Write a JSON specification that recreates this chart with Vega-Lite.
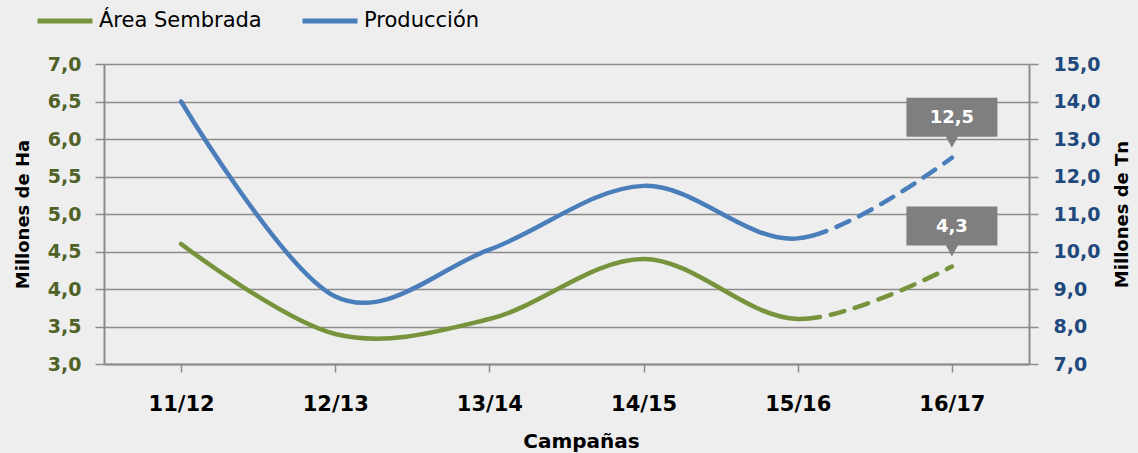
{
  "$schema": "https://vega.github.io/schema/vega-lite/v6.json",
  "width": 925,
  "height": 300,
  "autosize": {"type": "none"},
  "padding": {"left": 104, "top": 64, "right": 109, "bottom": 89},
  "background": "#eeeeee",
  "config": {
    "locale": {"number": {"decimal": ",", "thousands": ".", "grouping": [3], "currency": ["", " €"]}},
    "font": "DejaVu Sans",
    "view": {"stroke": null}
  },
  "data": {
    "values": [
      {"c": "11/12", "s": "Área Sembrada", "v": 4.6},
      {"c": "12/13", "s": "Área Sembrada", "v": 3.4},
      {"c": "13/14", "s": "Área Sembrada", "v": 3.6},
      {"c": "14/15", "s": "Área Sembrada", "v": 4.4},
      {"c": "15/16", "s": "Área Sembrada", "v": 3.6},
      {"c": "16/17", "s": "Área Sembrada", "v": 4.3},
      {"c": "11/12", "s": "Producción", "v": 14.0},
      {"c": "12/13", "s": "Producción", "v": 8.8},
      {"c": "13/14", "s": "Producción", "v": 10.05},
      {"c": "14/15", "s": "Producción", "v": 11.75},
      {"c": "15/16", "s": "Producción", "v": 10.35},
      {"c": "16/17", "s": "Producción", "v": 12.5}
    ]
  },
  "encoding": {
    "x": {
      "field": "c",
      "type": "ordinal",
      "scale": {"type": "point", "padding": 0.5},
      "axis": {
        "title": "Campañas",
        "titleFontSize": 20,
        "titleFontWeight": "bold",
        "titleColor": "#000000",
        "titlePadding": 17,
        "titleX": 477,
        "labelAngle": 0,
        "labelFontSize": 21,
        "labelFontWeight": "bold",
        "labelColor": "#000000",
        "labelPadding": 21,
        "tickSize": 8,
        "tickColor": "#8c8c8c",
        "tickWidth": 1.5,
        "domainColor": "#8c8c8c",
        "domainWidth": 2,
        "grid": false
      }
    }
  },
  "layer": [
    {
      "transform": [{"filter": "datum.s == 'Área Sembrada'"}],
      "encoding": {
        "y": {
          "field": "v",
          "type": "quantitative",
          "scale": {"domain": [3, 7], "nice": false, "zero": false},
          "axis": {
            "orient": "left",
            "values": [3, 3.5, 4, 4.5, 5, 5.5, 6, 6.5, 7],
            "format": ".1f",
            "title": "Millones de Ha",
            "titleFontSize": 18,
            "titleFontWeight": "bold",
            "titleColor": "#000000",
            "titlePadding": 15,
            "labelFontSize": 19,
            "labelFontWeight": "bold",
            "labelColor": "#4F6228",
            "labelPadding": 14,
            "tickSize": 9,
            "tickColor": "#8c8c8c",
            "tickWidth": 1.5,
            "domainColor": "#8c8c8c",
            "domainWidth": 2,
            "grid": true,
            "gridColor": "#8c8c8c",
            "gridWidth": 1.5
          }
        }
      },
      "layer": [
        {
          "mark": {
            "type": "line",
            "interpolate": "cardinal",
            "strokeWidth": 4.5,
            "strokeCap": "round",
            "strokeDash": [692, 11, 14, 11, 14, 11, 14, 11, 14, 11, 14, 11, 14, 11, 14, 11, 14, 11]
          },
          "encoding": {
            "color": {
              "field": "s",
              "type": "nominal",
              "scale": {"domain": ["Área Sembrada", "Producción"], "range": ["#77933C", "#4A7EBB"]},
              "legend": {
                "title": null,
                "orient": "none",
                "direction": "horizontal",
                "legendX": -69,
                "legendY": -73,
                "symbolType": "stroke",
                "symbolSize": 3025,
                "symbolStrokeWidth": 5,
                "labelFontSize": 21,
                "labelColor": "#000000",
                "labelOffset": 4,
                "labelLimit": 400,
                "columnPadding": 30
              }
            }
          }
        },
        {
          "transform": [{"filter": "datum.c == '16/17'"}],
          "mark": {
            "type": "point",
            "shape": "M-0.91,-1.2L0.91,-1.2L0.91,-0.42L0.12,-0.42L0,-0.2L-0.12,-0.42L-0.91,-0.42Z",
            "size": 10000,
            "filled": true,
            "color": "#7f7f7f",
            "opacity": 1,
            "strokeWidth": 0
          }
        },
        {
          "transform": [{"filter": "datum.c == '16/17'"}],
          "mark": {"type": "text", "dy": -40, "align": "center", "baseline": "middle", "fontSize": 18, "fontWeight": "bold", "color": "#ffffff"},
          "encoding": {"text": {"field": "v", "type": "quantitative", "format": ".1f"}}
        }
      ]
    },
    {
      "transform": [{"filter": "datum.s == 'Producción'"}],
      "encoding": {
        "y": {
          "field": "v",
          "type": "quantitative",
          "scale": {"domain": [7, 15], "nice": false, "zero": false},
          "axis": {
            "orient": "right",
            "values": [7, 8, 9, 10, 11, 12, 13, 14, 15],
            "format": ".1f",
            "title": "Millones de Tn",
            "titleFontSize": 18,
            "titleFontWeight": "bold",
            "titleColor": "#000000",
            "titleAngle": 270,
            "titleBaseline": "top",
            "titlePadding": 14,
            "labelFontSize": 19,
            "labelFontWeight": "bold",
            "labelColor": "#1F497D",
            "labelPadding": 15,
            "tickSize": 9,
            "tickColor": "#8c8c8c",
            "tickWidth": 1.5,
            "domainColor": "#8c8c8c",
            "domainWidth": 2,
            "grid": false
          }
        }
      },
      "layer": [
        {
          "mark": {
            "type": "line",
            "interpolate": "cardinal",
            "strokeWidth": 4.5,
            "strokeCap": "round",
            "strokeDash": [780, 11, 14, 11, 14, 11, 14, 11, 14, 11, 14, 11, 14, 11, 14, 11, 14, 11]
          },
          "encoding": {
            "color": {"field": "s", "type": "nominal"}
          }
        },
        {
          "transform": [{"filter": "datum.c == '16/17'"}],
          "mark": {
            "type": "point",
            "shape": "M-0.91,-1.2L0.91,-1.2L0.91,-0.42L0.12,-0.42L0,-0.2L-0.12,-0.42L-0.91,-0.42Z",
            "size": 10000,
            "filled": true,
            "color": "#7f7f7f",
            "opacity": 1,
            "strokeWidth": 0
          }
        },
        {
          "transform": [{"filter": "datum.c == '16/17'"}],
          "mark": {"type": "text", "dy": -40, "align": "center", "baseline": "middle", "fontSize": 18, "fontWeight": "bold", "color": "#ffffff"},
          "encoding": {"text": {"field": "v", "type": "quantitative", "format": ".1f"}}
        }
      ]
    }
  ],
  "resolve": {"scale": {"y": "independent"}}
}
